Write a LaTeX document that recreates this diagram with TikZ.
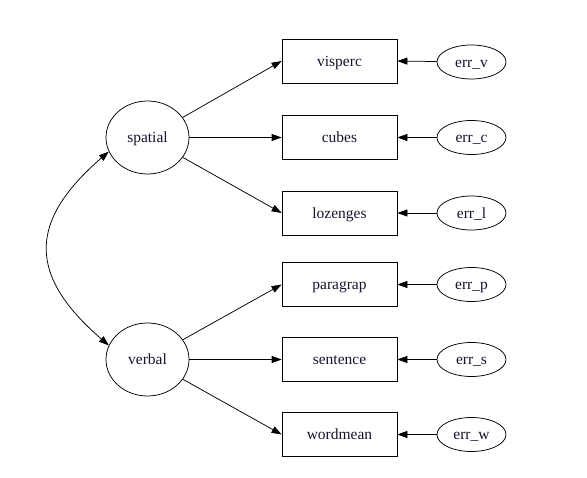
\documentclass[tikz,border=0pt]{standalone}
\usepackage{fontspec}
\setmainfont{Liberation Serif}
\usetikzlibrary{arrows.meta,shapes.geometric}
\definecolor{txt}{rgb}{0.08,0.08,0.18}
\begin{document}
\begin{tikzpicture}[x=1pt,y=-1pt,
  every node/.style={font=\fontsize{15.5}{18}\selectfont, text=txt, inner sep=0pt, text height=11pt, text depth=0pt},
  latent/.style={draw, ellipse, line width=0.75pt, minimum width=83pt, minimum height=73pt},
  obsbox/.style={draw, rectangle, line width=0.75pt, minimum width=115pt, minimum height=44pt},
  errnode/.style={draw, ellipse, line width=0.75pt, minimum width=69pt, minimum height=34pt},
  conn/.style={line width=0.75pt, -{Triangle[length=10pt,width=7pt]}},
  biconn/.style={line width=0.75pt, {Triangle[length=10pt,width=7pt]}-{Triangle[length=10pt,width=7pt]}}
]
\useasboundingbox (0,0) rectangle (587,478);
\node[latent] (spatial) at (147.5,137.5) {spatial};
\node[latent] (verbal) at (147.5,359.5) {verbal};

\node[obsbox] (visperc) at (339.5,61) {visperc};
\node[obsbox] (cubes) at (339.5,137.5) {cubes};
\node[obsbox] (lozenges) at (339.5,213) {lozenges};
\node[obsbox] (paragrap) at (339.5,284.5) {paragrap};
\node[obsbox] (sentence) at (339.5,359.5) {sentence};
\node[obsbox] (wordmean) at (339.5,434.5) {wordmean};

\node[errnode] (errv) at (471.5,62) {err\_v};
\node[errnode] (errc) at (471.5,137.5) {err\_c};
\node[errnode] (errl) at (471.5,213) {err\_l};
\node[errnode] (errp) at (471.5,284.5) {err\_p};
\node[errnode] (errs) at (471.5,359.5) {err\_s};
\node[errnode] (errw) at (471.5,434.5) {err\_w};

\draw[conn] (spatial) -- (visperc.west);
\draw[conn] (spatial) -- (cubes.west);
\draw[conn] (spatial) -- (lozenges.west);
\draw[conn] (verbal) -- (paragrap.west);
\draw[conn] (verbal) -- (sentence.west);
\draw[conn] (verbal) -- (wordmean.west);

\draw[conn] (errv) -- (visperc.east);
\draw[conn] (errc) -- (cubes.east);
\draw[conn] (errl) -- (lozenges.east);
\draw[conn] (errp) -- (paragrap.east);
\draw[conn] (errs) -- (sentence.east);
\draw[conn] (errw) -- (wordmean.east);

\draw[biconn] (spatial.200) .. controls +(-81,70) and +(-81,-70) .. (verbal.160);
\end{tikzpicture}
\end{document}
